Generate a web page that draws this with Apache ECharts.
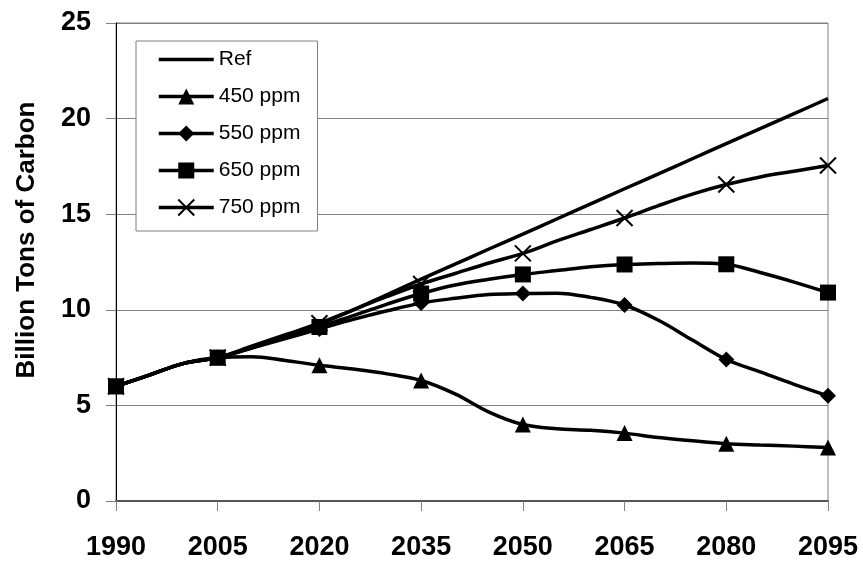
<!DOCTYPE html>
<html>
<head>
<meta charset="utf-8">
<script src="https://cdn.jsdelivr.net/npm/echarts@6/dist/echarts.min.js"></script>
<style>
html,body{margin:0;padding:0;background:#fff;}
#chart{width:863px;height:561px;}
</style>
</head>
<body>
<div id="chart"></div>
<script>
// ---- Data (5-year steps; markers every 15 years) ----
const years = ['1990','1995','2000','2005','2010','2015','2020','2025','2030','2035','2040','2045','2050','2055','2060','2065','2070','2075','2080','2085','2090','2095'];
const refValues   = [6.0, 6.6, 7.2, 7.5, 8.0, 8.6, 9.25, 10.0, 10.8, 11.6, 12.39, 13.18, 13.96, 14.75, 15.54, 16.33, 17.11, 17.9, 18.69, 19.48, 20.26, 21.05];
const ppm450      = [6.0, 6.6, 7.2, 7.5, 7.55, 7.35, 7.1, 6.9, 6.65, 6.3, 5.6, 4.65, 4.0, 3.78, 3.7, 3.55, 3.32, 3.15, 3.0, 2.93, 2.87, 2.8];
const ppm550      = [6.0, 6.6, 7.2, 7.5, 8.0, 8.5, 9.0, 9.5, 9.95, 10.35, 10.6, 10.8, 10.85, 10.87, 10.65, 10.25, 9.45, 8.42, 7.4, 6.75, 6.1, 5.5];
const ppm650      = [6.0, 6.6, 7.2, 7.5, 8.05, 8.55, 9.1, 9.7, 10.3, 10.85, 11.3, 11.6, 11.85, 12.05, 12.25, 12.37, 12.42, 12.45, 12.38, 11.95, 11.45, 10.9];
const ppm750      = [6.0, 6.6, 7.2, 7.5, 8.1, 8.7, 9.3, 10.0, 10.7, 11.35, 11.9, 12.45, 12.95, 13.6, 14.2, 14.8, 15.45, 16.05, 16.55, 16.95, 17.25, 17.55];
const seriesNames = ['Ref', '450 ppm', '550 ppm', '650 ppm', '750 ppm'];
const yTicks = [0, 5, 10, 15, 20, 25];
const yTitle = 'Billion Tons of Carbon';

const FONT = '"Liberation Sans", Arial, sans-serif';
const X_SYMBOL = 'path://M0,0L10,10M10,0L0,10';
const LINE_W = 3.5;

function withMarkers(vals) {
  return vals.map(function (v, i) {
    return (i % 3 === 0) ? v : { value: v, symbol: 'none' };
  });
}

function mkSeries(name, vals, symbol, extraItem) {
  return {
    name: name,
    type: 'line',
    data: symbol === 'none' ? vals : withMarkers(vals),
    smooth: 0.35,
    symbol: symbol,
    symbolSize: 16,
    showAllSymbol: true,
    color: '#000',
    lineStyle: { color: '#000', width: LINE_W },
    itemStyle: Object.assign({ color: '#000' }, extraItem || {}),
    emphasis: { disabled: true },
    animation: false
  };
}

const chart = echarts.init(document.getElementById('chart'), null, { renderer: 'canvas' });
chart.setOption({
  backgroundColor: '#fff',
  animation: false,
  grid: { left: 116, right: 35, top: 23, bottom: 60, show: true, borderColor: '#808080', borderWidth: 1, containLabel: false },
  xAxis: {
    type: 'category',
    data: years,
    boundaryGap: false,
    axisLine: { lineStyle: { color: '#555', width: 2 } },
    axisTick: { show: true, interval: 2, length: 10, lineStyle: { color: '#808080', width: 1 } },
    axisLabel: { interval: 2, margin: 33, color: '#000', fontFamily: FONT, fontWeight: 'bold', fontSize: 27 },
    splitLine: { show: false }
  },
  yAxis: {
    type: 'value',
    min: yTicks[0],
    max: yTicks[yTicks.length - 1],
    interval: 5,
    axisLine: { show: true, lineStyle: { color: '#000', width: 1 } },
    axisTick: { show: true, length: 10, lineStyle: { color: '#808080', width: 1 } },
    axisLabel: { margin: 25, color: '#000', fontFamily: FONT, fontWeight: 'bold', fontSize: 27 },
    splitLine: { show: true, lineStyle: { color: '#808080', width: 1 } }
  },
  legend: {
    orient: 'vertical',
    left: 136,
    top: 41,
    itemWidth: 55,
    itemHeight: 20,
    itemGap: 16,
    padding: [8, 17, 13, 21],
    backgroundColor: '#fff',
    borderColor: '#808080',
    borderWidth: 1,
    selectedMode: false,
    lineStyle: { color: '#000', width: LINE_W },
    textStyle: { color: '#000', fontFamily: FONT, fontSize: 21 },
    data: [
      { name: seriesNames[0], itemStyle: { opacity: 0 } },
      { name: seriesNames[1] },
      { name: seriesNames[2] },
      { name: seriesNames[3] },
      { name: seriesNames[4], itemStyle: { borderColor: '#000', borderWidth: 2 } }
    ]
  },
  graphic: [{
    type: 'text',
    x: 27,
    y: 240,
    rotation: Math.PI / 2,
    style: {
      text: yTitle,
      fill: '#000',
      font: 'bold 26px ' + FONT,
      align: 'center',
      verticalAlign: 'middle'
    }
  }],
  series: [
    mkSeries(seriesNames[0], refValues, 'none'),
    mkSeries(seriesNames[1], ppm450, 'triangle'),
    mkSeries(seriesNames[2], ppm550, 'diamond'),
    mkSeries(seriesNames[3], ppm650, 'rect'),
    mkSeries(seriesNames[4], ppm750, X_SYMBOL, { borderColor: '#000', borderWidth: 2 })
  ]
});
</script>
</body>
</html>
